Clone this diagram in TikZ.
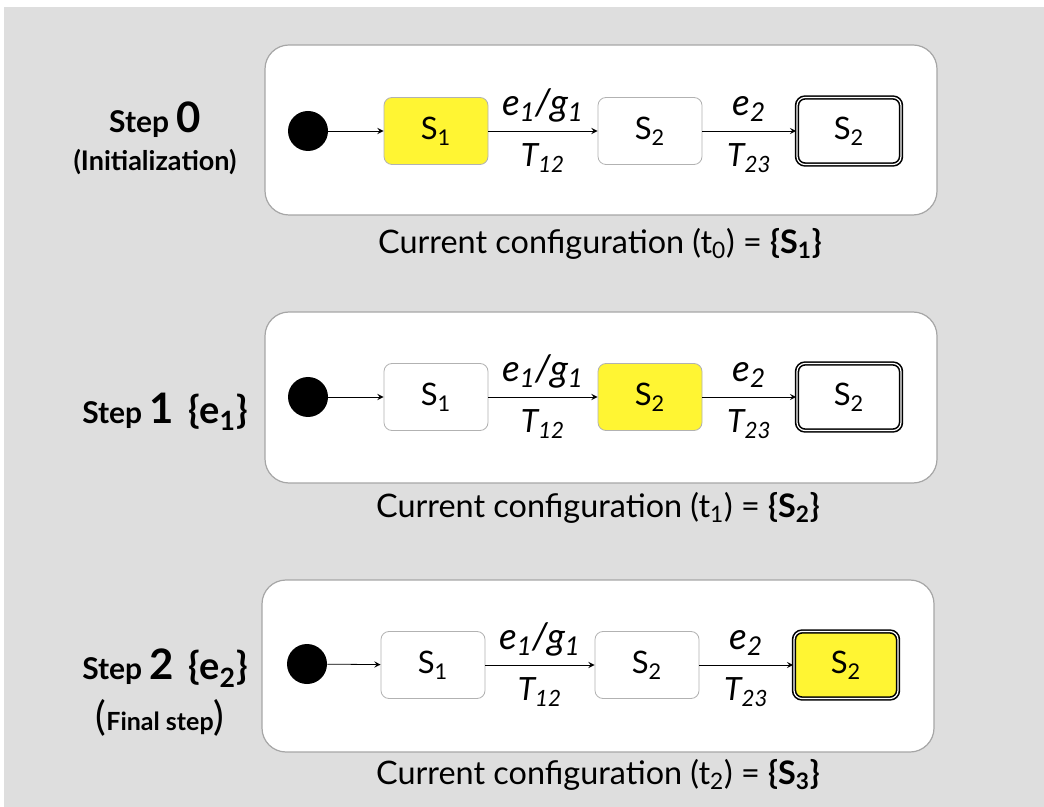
\documentclass[tikz,border=0pt]{standalone}
\usepackage{fontspec}
\setmainfont{Lato}
\usetikzlibrary{positioning}

\begin{document}
\begin{tikzpicture}[
    x=0.5pt, y=-0.5pt,
    panel/.style={draw=gray!70, fill=white, rounded corners=12pt, line width=0.6pt},
    state/.style={rectangle, rounded corners=4pt, draw=gray!60, fill=white, minimum width=52pt, minimum height=33.5pt, font=\fontsize{15.5}{18}\selectfont},
    active/.style={fill=yellow!80},
    final/.style={draw=black, line width=0.8pt, double=white, double distance=0.6pt},
    init/.style={circle, fill=black, minimum size=20pt, inner sep=0pt},
    trans/.style={-stealth, thin},
    evt/.style={font=\itshape\fontsize{18.5}{21}\selectfont, above=1pt},
    guard/.style={font=\itshape\fontsize{16}{19}\selectfont, below=3pt},
    caption/.style={font=\fontsize{16.2}{19}\selectfont},
    steplabel/.style={font=\bfseries\fontsize{15}{18}\selectfont, align=center}
]
\useasboundingbox (0,0) rectangle (1044,807);
\fill[black!13] (4,7) rectangle (1044,807);

% step 0
\draw[panel] (265,45) rectangle (937,215);
\node[init] (i0) at (308,131) {};
\node[state, active] (a0) at (436,131) {S\textsubscript{1}};
\node[state] (b0) at (650,131) {S\textsubscript{2}};
\node[state, final] (c0) at (849,131) {S\textsubscript{2}};
\draw[trans] (i0) -- (a0);
\draw[trans] (a0) -- node[evt] {e\textsubscript{1}/g\textsubscript{1}} node[guard] {T\textsubscript{12}} (b0);
\draw[trans] (b0) -- node[evt] {e\textsubscript{2}} node[guard] {T\textsubscript{23}} (c0);
\node[caption] (cap0) at (600,244) {Current configuration (t\textsubscript{0}) = \textbf{\{S\textsubscript{1}\}}};
\node[steplabel] (lab0) at (155,120) {Step {\fontsize{21}{24}\selectfont 0}};
\node[steplabel, font=\bfseries\fontsize{13.5}{16}\selectfont] (sub0) at (155,162) {(Initialization)};

% step 1
\draw[panel] (265,312) rectangle (937,483);
\node[init] (i1) at (308,397) {};
\node[state] (a1) at (436,397) {S\textsubscript{1}};
\node[state, active] (b1) at (650,397) {S\textsubscript{2}};
\node[state, final] (c1) at (849,397) {S\textsubscript{2}};
\draw[trans] (i1) -- (a1);
\draw[trans] (a1) -- node[evt] {e\textsubscript{1}/g\textsubscript{1}} node[guard] {T\textsubscript{12}} (b1);
\draw[trans] (b1) -- node[evt] {e\textsubscript{2}} node[guard] {T\textsubscript{23}} (c1);
\node[caption] (cap1) at (598,508) {Current configuration (t\textsubscript{1}) = \textbf{\{S\textsubscript{2}\}}};
\node[steplabel] (lab1) at (165,412) {Step {\fontsize{21}{24}\selectfont 1}\enspace{\fontsize{19}{22}\selectfont \{e\textsubscript{1}\}}};

% step 2
\draw[panel] (262,580) rectangle (934,752);
\node[init] (i2) at (307,664) {};
\node[state] (a2) at (433,665) {S\textsubscript{1}};
\node[state] (b2) at (647,665) {S\textsubscript{2}};
\node[state, final, active] (c2) at (846,665) {S\textsubscript{2}};
\draw[trans] (i2) -- (a2);
\draw[trans] (a2) -- node[evt] {e\textsubscript{1}/g\textsubscript{1}} node[guard] {T\textsubscript{12}} (b2);
\draw[trans] (b2) -- node[evt] {e\textsubscript{2}} node[guard] {T\textsubscript{23}} (c2);
\node[caption] (cap2) at (598,775) {Current configuration (t\textsubscript{2}) = \textbf{\{S\textsubscript{3}\}}};
\node[steplabel] (lab2) at (165,668) {Step {\fontsize{21}{24}\selectfont 2}\enspace{\fontsize{19}{22}\selectfont \{e\textsubscript{2}\}}};
\node[steplabel] (sub2) at (160,718) {{\mdseries\fontsize{20}{22}\selectfont(}{\fontsize{12.5}{14}\selectfont Final step}{\mdseries\fontsize{20}{22}\selectfont)}};
\end{tikzpicture}
\end{document}
